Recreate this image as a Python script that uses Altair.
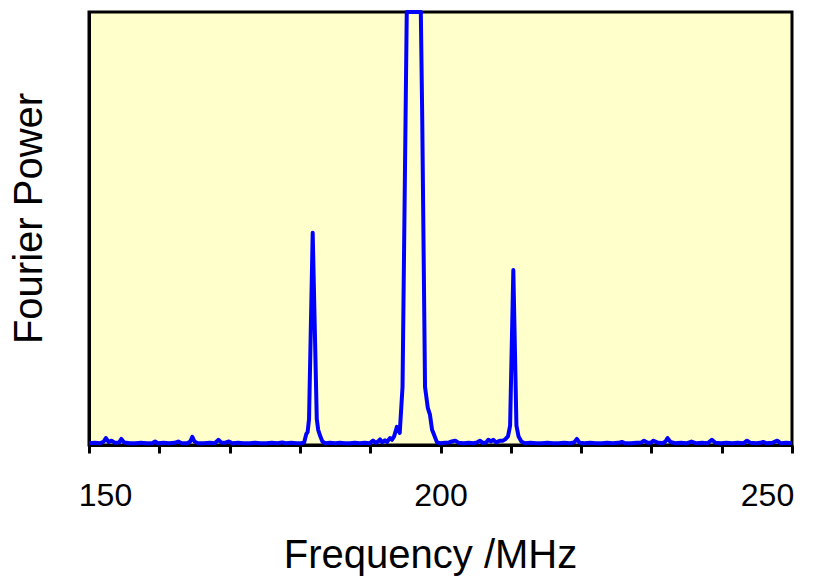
import altair as alt
import pandas as pd

freq = [150.0, 150.8, 151.6, 152.1, 152.4, 152.8, 153.2, 153.7, 154.3, 154.6, 155.0, 155.8,
        156.6, 157.4, 158.2, 159.0, 159.4, 159.8, 160.6, 161.4, 162.2, 162.7, 163.2, 164.0,
        164.4, 164.7, 165.0, 165.5, 166.3, 167.2, 167.9, 168.4, 168.8, 169.3, 169.9, 170.4,
        171.2, 172.0, 172.8, 173.6, 174.4, 175.2, 176.0, 176.8, 177.5, 178.0, 178.8, 179.5,
        180.2, 180.6, 180.9, 181.1, 181.3, 181.82, 182.4, 182.6, 182.9, 183.2, 183.6, 184.3,
        185.0, 185.7, 186.4, 187.1, 187.8, 188.5, 189.2, 189.9, 190.4, 190.8, 191.1, 191.4,
        191.7, 192.1, 192.4, 192.8, 193.1, 193.4, 193.8, 194.2, 194.6, 195.2, 196.2, 197.2,
        197.4, 197.8, 198.2, 198.5, 198.8, 199.0, 199.5, 200.0, 200.6, 201.2, 201.6, 202.1,
        202.6, 203.3, 204.0, 204.7, 205.2, 205.6, 206.0, 206.5, 206.8, 207.2, 207.5, 207.9,
        208.5, 208.9, 209.2, 209.6, 209.9, 210.36, 210.8, 211.1, 211.5, 212.0, 212.8, 213.6,
        214.4, 215.2, 216.0, 216.8, 217.6, 218.4, 219.0, 219.4, 219.8, 220.5, 221.3, 222.1,
        222.9, 223.7, 224.5, 225.3, 225.8, 226.3, 227.1, 227.9, 228.6, 228.95, 229.4, 229.9,
        230.3, 230.8, 231.6, 232.0, 232.3, 232.7, 233.4, 234.2, 235.0, 235.7, 236.4, 237.2,
        238.0, 238.6, 239.1, 239.9, 240.7, 241.5, 242.3, 243.1, 243.6, 244.1, 244.9, 245.5,
        245.9, 246.4, 247.2, 247.9, 248.4, 249.2, 250.0]

power = [0.004, 0.005, 0.004, 0.008, 0.016, 0.007, 0.010, 0.005, 0.006, 0.014, 0.006, 0.004,
         0.004, 0.005, 0.004, 0.004, 0.008, 0.004, 0.005, 0.004, 0.005, 0.008, 0.004, 0.004,
         0.008, 0.019, 0.008, 0.004, 0.004, 0.005, 0.004, 0.012, 0.006, 0.005, 0.008, 0.004,
         0.005, 0.004, 0.004, 0.005, 0.004, 0.004, 0.005, 0.004, 0.006, 0.004, 0.005, 0.004,
         0.004, 0.006, 0.025, 0.030, 0.060, 0.490, 0.060, 0.035, 0.020, 0.008, 0.004, 0.005,
         0.004, 0.005, 0.004, 0.004, 0.005, 0.004, 0.005, 0.004, 0.010, 0.005, 0.008, 0.013,
         0.006, 0.011, 0.007, 0.016, 0.012, 0.020, 0.042, 0.028, 0.134, 1.800, 3.000, 1.600,
         0.757, 0.134, 0.085, 0.070, 0.035, 0.027, 0.006, 0.004, 0.005, 0.006, 0.008, 0.010,
         0.005, 0.004, 0.005, 0.004, 0.006, 0.010, 0.005, 0.006, 0.012, 0.008, 0.012, 0.006,
         0.010, 0.010, 0.013, 0.020, 0.045, 0.404, 0.045, 0.020, 0.008, 0.004, 0.005, 0.004,
         0.004, 0.005, 0.004, 0.004, 0.005, 0.004, 0.006, 0.014, 0.005, 0.004, 0.005, 0.004,
         0.004, 0.005, 0.004, 0.005, 0.007, 0.004, 0.004, 0.005, 0.006, 0.010, 0.006, 0.005,
         0.010, 0.006, 0.004, 0.008, 0.016, 0.007, 0.004, 0.005, 0.004, 0.008, 0.004, 0.005,
         0.004, 0.012, 0.005, 0.004, 0.005, 0.004, 0.005, 0.004, 0.010, 0.005, 0.004, 0.005,
         0.007, 0.004, 0.005, 0.010, 0.004, 0.005, 0.004]

x_ticks = [150, 160, 170, 180, 190, 200, 210, 220, 230, 240, 250]

df = pd.DataFrame({"f": freq, "p": power})

chart = alt.Chart(df).mark_line(color="#0000FF", strokeWidth=4, strokeJoin="round").encode(
    x=alt.X("f:Q",
            scale=alt.Scale(domain=[150, 250], nice=False, zero=False),
            axis=alt.Axis(title="Frequency /MHz", values=x_ticks,
                          labelExpr="datum.value % 50 == 0 ? datum.label : ''",
                          labelFlush=False, labelOverlap=False,
                          labelOffset={"condition": [{"test": "datum.value == 150", "value": 16},
                                                     {"test": "datum.value == 250", "value": -25}],
                                       "value": 0},
                          grid=False, domain=True, domainColor="black", domainWidth=3,
                          ticks=True, tickColor="black", tickWidth=3, tickSize=8,
                          labelFont="Liberation Sans", labelFontSize=32, labelColor="black",
                          labelPadding=27, titleFont="Liberation Sans", titleFontSize=40,
                          titleFontWeight="normal", titleColor="black", titlePadding=24,
                          titleX=341)),
    y=alt.Y("p:Q",
            scale=alt.Scale(domain=[0, 1], clamp=True, nice=False),
            axis=alt.Axis(title="Fourier Power", labels=False, ticks=False, grid=False,
                          domain=True, domainColor="black", domainWidth=3,
                          titleFont="Liberation Sans", titleFontSize=40,
                          titleFontWeight="normal", titleColor="black", titlePadding=40,
                          titleY=206)),
).properties(
    width=703, height=433,
    autosize=alt.AutoSizeParams(type="none"),
    padding={"left": 81, "top": 4, "right": 22, "bottom": 131},
).configure_view(
    fill="#FFFFCC", stroke="black", strokeWidth=3
)

chart.save("out.html", embed_options={"renderer": "svg", "actions": False})
